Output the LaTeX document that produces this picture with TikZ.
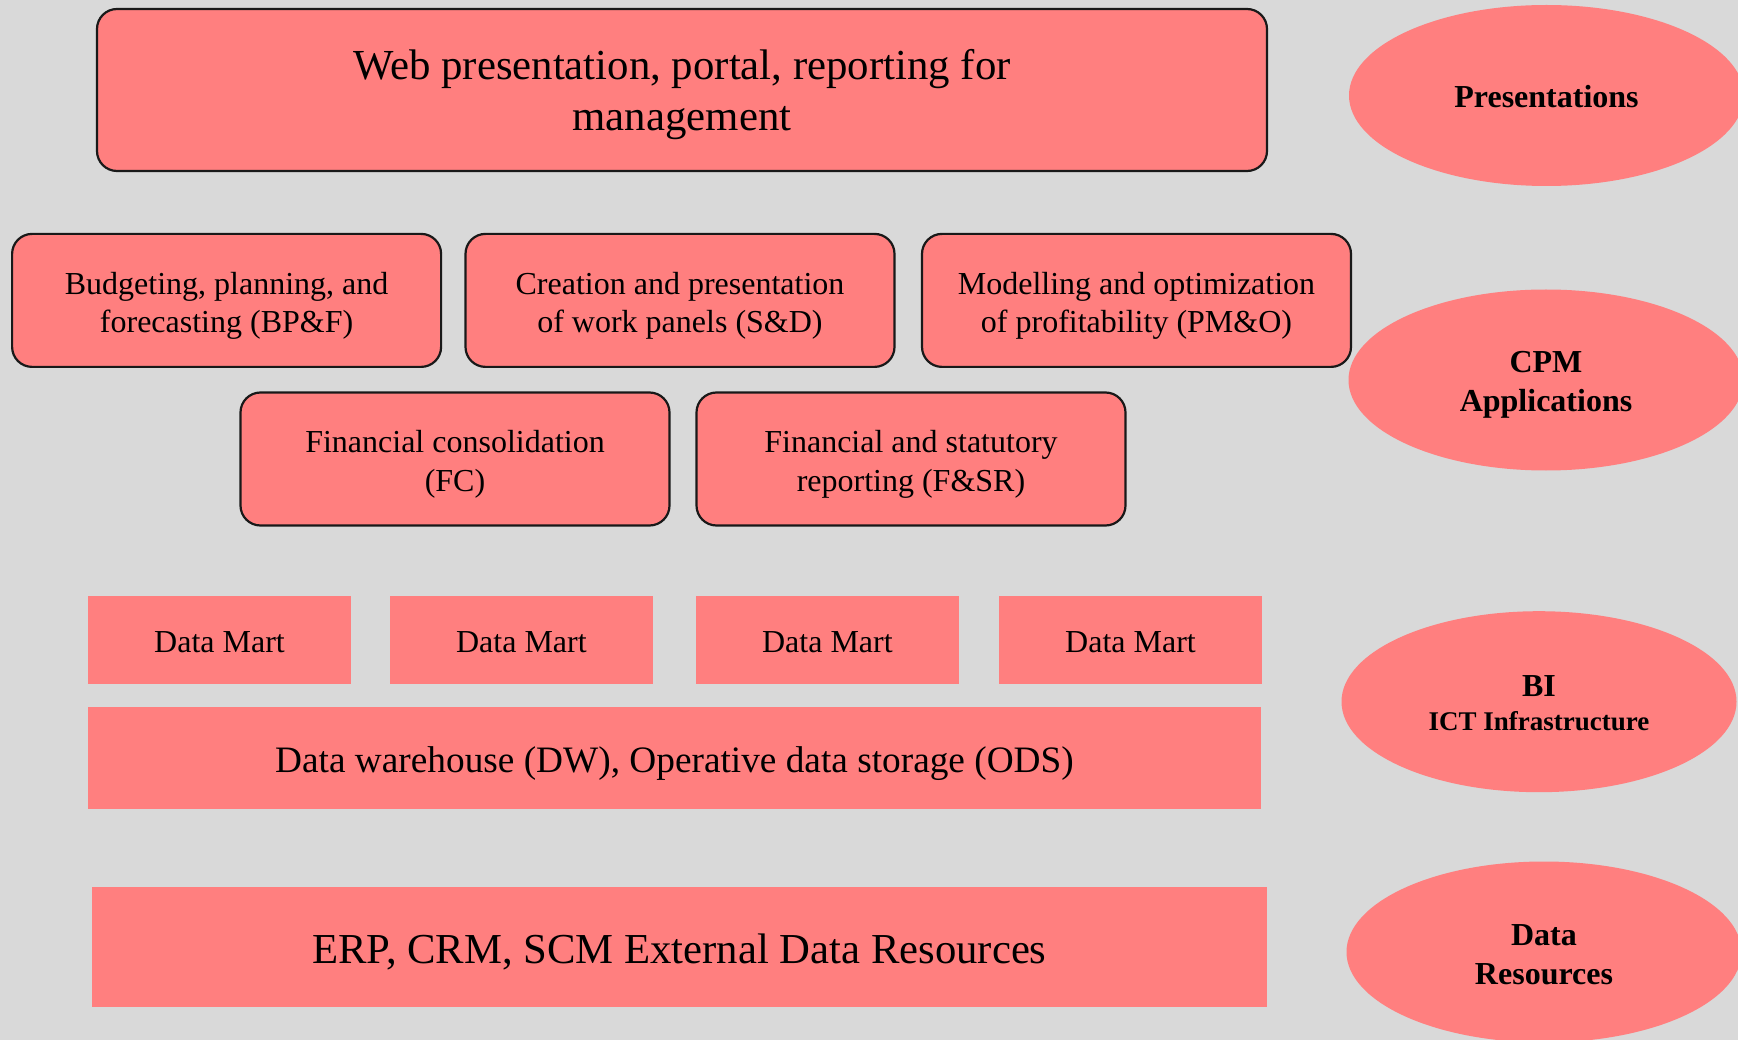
\documentclass[tikz,border=0pt]{standalone}
\usepackage{fontspec}
\setmainfont{Liberation Serif}
\usetikzlibrary{shapes.geometric}
\definecolor{bg}{HTML}{D9D9D9}
\definecolor{pk}{HTML}{FF7F7F}
\begin{document}
\begin{tikzpicture}[x=1pt,y=-1pt,
  rbox/.style={draw=black!90, line width=2.2pt, fill=pk, rounded corners=20pt, align=center, inner sep=0pt,
    minimum width=429pt, minimum height=133pt, text height=64.6pt, text depth=0pt,
    font=\fontsize{32}{38.4}\selectfont},
  fbox/.style={fill=pk, inner sep=0pt, align=center, text depth=0pt},
  martbox/.style={fbox, minimum width=263pt, minimum height=87.6pt, text height=25.4pt,
    font=\fontsize{32}{38}\selectfont},
  ell/.style={ellipse, fill=pk, minimum width=395pt, minimum height=181pt, inner sep=0pt, align=center,
    text depth=0pt, font=\bfseries\fontsize{32}{39.4}\selectfont}]
\fill[bg] (0,0) rectangle (1738,1040);
\useasboundingbox (0,0) rectangle (1738,1040);

% top
\node[rbox, minimum width=1170pt, minimum height=162pt, text height=81.4pt, font=\fontsize{42.8}{50.7}\selectfont] (web) at (682,90)
  {Web presentation, portal, reporting for\\management};

% CPM applications
\node[rbox] (bpf) at (226.6,300.4) {Budgeting, planning, and\\forecasting (BP\&F)};
\node[rbox] (sd)  at (680,300.4) {Creation and presentation\\of work panels (S\&D)};
\node[rbox] (pmo) at (1136.5,300.4) {Modelling and optimization\\of profitability (PM\&O)};
\node[rbox] (fc)  at (455,459) {Financial consolidation\\(FC)};
\node[rbox] (fsr) at (911,459) {Financial and statutory\\reporting (F\&SR)};

% data marts
\node[martbox] (dm1) at (219.5,640) {Data Mart};
\node[martbox] (dm2) at (521.4,640) {Data Mart};
\node[martbox] (dm3) at (827.4,640) {Data Mart};
\node[martbox] (dm4) at (1130.5,640) {Data Mart};

\node[fbox, minimum width=1173.7pt, minimum height=102pt, text height=29.4pt, font=\fontsize{37.3}{44}\selectfont] (dw) at (674.5,758)
  {Data warehouse (DW), Operative data storage (ODS)};

\node[fbox, minimum width=1175pt, minimum height=120.8pt, text height=32.6pt, font=\fontsize{42.7}{50}\selectfont] (erp) at (679.5,947)
  {ERP, CRM, SCM External Data Resources};

% ellipses
\node[ell, text height=23.6pt] (pres) at (1546.5,95.5) {Presentations};
\node[ell, text height=63.4pt] (cpm) at (1546,380) {CPM\\Applications};
\node[ell, text height=58pt, font=\bfseries\fontsize{32}{34}\selectfont] (bi) at (1539,701.7)
  {BI\\{\fontsize{27}{34}\selectfont ICT Infrastructure}};
\node[ell, text height=64pt, font=\bfseries\fontsize{32}{38.3}\selectfont] (dr) at (1544,952) {Data\\Resources};
\end{tikzpicture}
\end{document}
